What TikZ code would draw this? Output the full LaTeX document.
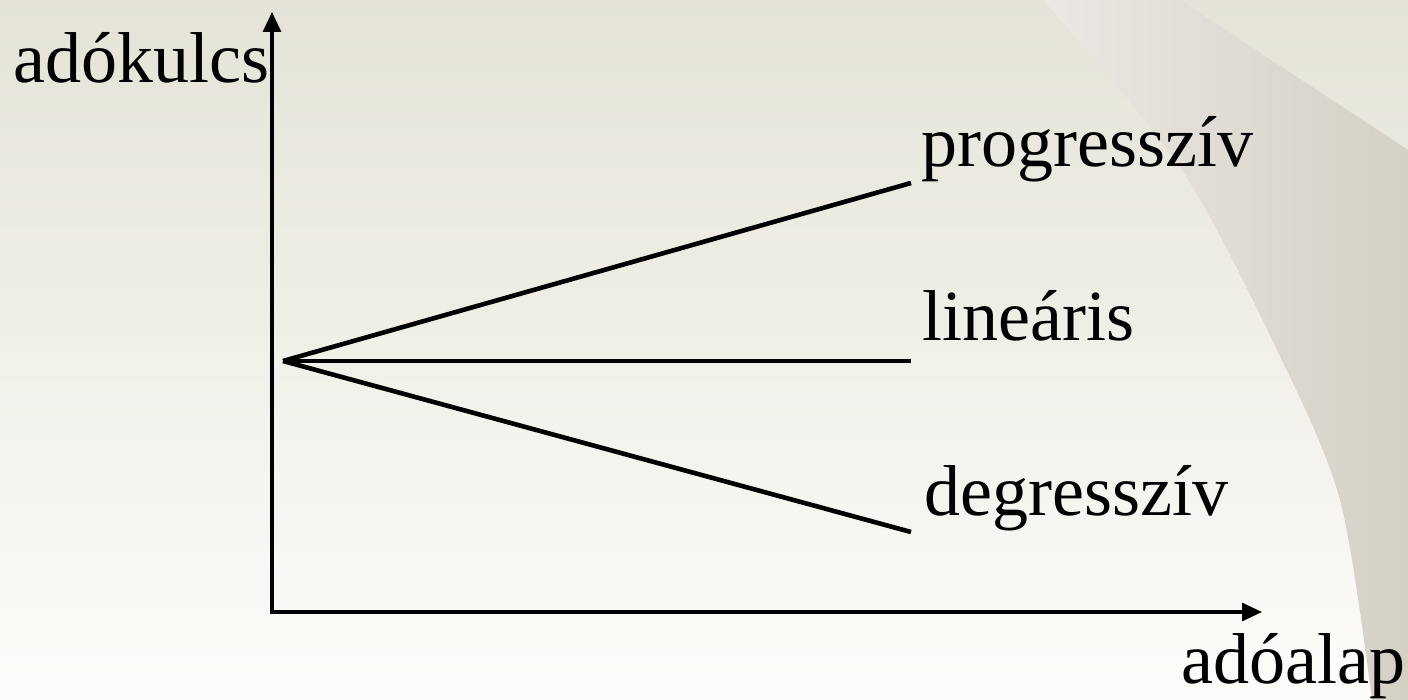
\documentclass[tikz,border=0pt]{standalone}
\usepackage{fontspec}
\setmainfont{Liberation Serif}
\usetikzlibrary{arrows.meta}
\definecolor{bgtop}{RGB}{229,227,215}
\definecolor{bgbot}{RGB}{252,252,250}
\definecolor{bandl}{RGB}{235,231,227}
\definecolor{bandr}{RGB}{213,208,197}
\begin{document}
\begin{tikzpicture}[x=0.5pt,y=-0.5pt,
  lbl/.style={anchor=base west,inner sep=0pt,font=\fontsize{36}{40}\selectfont},
  axis/.style={line width=1.6pt,{Triangle[length=10pt,width=9pt]}-{Triangle[length=10pt,width=9pt]}},
  rate/.style={line width=2.3pt}]
\useasboundingbox (0,0) rectangle (1408,700);
% background
\shade[top color=bgtop,bottom color=bgbot] (0,0) rectangle (1408,700);
\shade[left color=bandl,right color=bandr]
  plot[smooth] coordinates {(1043,0) (1180,167) (1277,350) (1340,500) (1372,700)}
  -- (1408,700) -- (1408,150) -- (1180,0) -- cycle;
% axes
\coordinate (ytip) at (272,12);
\coordinate (corner) at (272,612);
\coordinate (xtip) at (1262,612);
\draw[axis] (ytip) -- (corner) -- (xtip);
% rate lines
\coordinate (O) at (283,361);
\coordinate (pend) at (911,183);
\coordinate (lend) at (911,361);
\coordinate (dend) at (911,532);
\draw[rate] (O) -- (pend);
\draw[rate] (O) -- (lend);
\draw[rate] (O) -- (dend);
% labels
\node[lbl] (kulcs) at (13,83) {adókulcs};
\node[lbl] (prog) at (921,167) {progresszív};
\node[lbl] (lin) at (922,340) {lineáris};
\node[lbl] (deg) at (924,515) {degresszív};
\node[lbl] (alap) at (1181,683) {adóalap};
\end{tikzpicture}
\end{document}
